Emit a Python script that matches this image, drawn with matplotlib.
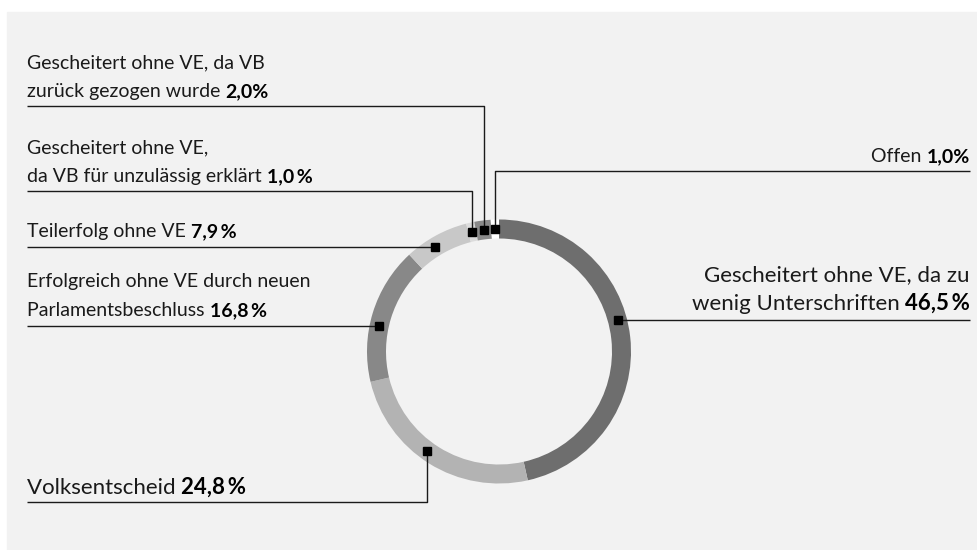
import numpy as np
import matplotlib.pyplot as plt
from matplotlib.patches import Rectangle

plt.rcParams['font.family'] = ['Lato', 'DejaVu Sans']

# shares in percent, clockwise from 12 o'clock
labels = [
    ["Gescheitert ohne VE, da zu", "wenig Unterschriften"],
    ["Volksentscheid"],
    ["Erfolgreich ohne VE durch neuen", "Parlamentsbeschluss"],
    ["Teilerfolg ohne VE"],
    ["Gescheitert ohne VE,", "da VB für unzulässig erklärt"],
    ["Gescheitert ohne VE, da VB", "zurück gezogen wurde"],
    ["Offen"],
]
values = [46.5, 24.8, 16.8, 7.9, 1.0, 2.0, 1.0]
value_texts = ["46,5\u2009%", "24,8\u2009%", "16,8\u2009%", "7,9\u2009%",
               "1,0\u2009%", "2,0%", "1,0%"]
colors = ['#6e6e6e', '#b3b3b3', '#888888', '#c8c8c8', '#dcdcdc', '#8a8a8a', '#ffffff']

# where the dot sits inside its segment, where the leader bends, which side
anchor_frac = [0.45, 0.545, 0.42, 0.39, 0.5, 0.5, 0.5]
elbow_y = [None, 502, None, None, 191, 106, 171]
side = ['right', 'left', 'left', 'left', 'left', 'left', 'right']
font_sizes = [16.0, 16.0, 14.0, 14.0, 14.0, 14.0, 14.0]
text_lift = [10.5, 8.5, 10, 10.5, 9, 9, 9]

W, H = 977, 550
cx, cy = 499, 351.5
r_out, ring = 132, 19
x_left, x_right = 27, 970
line_gap = 28.5
ink = '#1a1a1a'

fig = plt.figure(figsize=(W / 100, H / 100), dpi=100)
fig.patch.set_facecolor('white')
ax = fig.add_axes([0, 0, 1, 1])

ax.add_patch(Rectangle((7, 12), W - 7, H - 12, color='#f2f2f2', zorder=0))

ax.pie(values, colors=colors, startangle=-90, counterclock=True,
       radius=r_out, center=(cx, cy),
       wedgeprops=dict(width=ring, linewidth=0))

ax.set_xlim(0, W)
ax.set_ylim(H, 0)
ax.set_aspect('auto')
ax.axis('off')

r_mid = r_out - ring / 2
start = np.concatenate([[0], np.cumsum(values)[:-1]])

for i in range(len(values)):
    a = (start[i] + anchor_frac[i] * values[i]) / 100 * 360
    th = np.radians(a - 90)
    mx = cx + r_mid * np.cos(th)
    my = cy + r_mid * np.sin(th)

    ly = my if elbow_y[i] is None else elbow_y[i]
    xe = x_right if side[i] == 'right' else x_left
    ax.plot([mx, mx, xe], [my, ly, ly], color=ink, lw=1.0,
            solid_capstyle='butt', zorder=3)
    ax.plot(mx, my, 's', ms=5.8, color='black', zorder=4)

    # label lines sit above the horizontal leader, last line carries the value
    fs = font_sizes[i]
    lines = labels[i]
    n = len(lines)
    for k, txt in enumerate(lines):
        by = ly - text_lift[i] - (n - 1 - k) * line_gap
        last = k == n - 1
        if side[i] == 'left':
            t = ax.text(x_left, by, txt + (' ' if last else ''), fontsize=fs,
                        color=ink, ha='left', va='baseline')
            if last:
                ax.annotate(value_texts[i], xy=(1, 0), xycoords=t,
                            fontsize=fs, fontweight='bold', color='black',
                            ha='left', va='bottom')
        else:
            if last:
                tb = ax.text(x_right, by, value_texts[i], fontsize=fs,
                             fontweight='bold', color='black',
                             ha='right', va='baseline')
                ax.annotate(txt + ' ', xy=(0, 0), xycoords=tb, fontsize=fs,
                            color=ink, ha='right', va='bottom')
            else:
                ax.text(x_right, by, txt, fontsize=fs, color=ink,
                        ha='right', va='baseline')

fig.savefig('out.png', dpi=100, facecolor=fig.get_facecolor())
